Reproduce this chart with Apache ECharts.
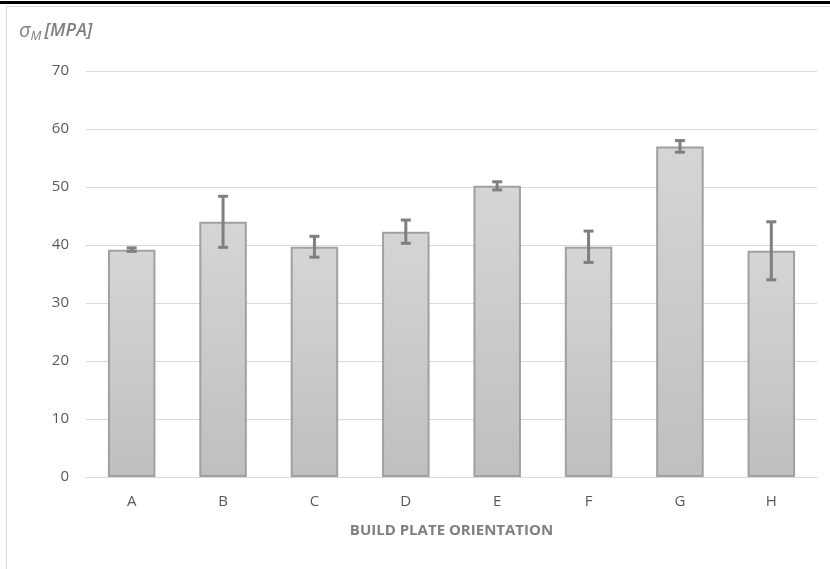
<!DOCTYPE html>
<html><head><meta charset="utf-8">
<script src="https://cdn.jsdelivr.net/npm/echarts@6/dist/echarts.min.js"></script>
<style>html,body{margin:0;padding:0;background:#fff}#c{width:830px;height:569px}</style>
</head><body><div id="c"></div>
<script>
const categories = ['A','B','C','D','E','F','G','H'];
const values = [39.2, 44.0, 39.7, 42.3, 50.2, 39.7, 57.0, 39.0];
const errors = [0.3, 4.4, 1.8, 2.0, 0.7, 2.7, 1.0, 5.0];
const yTicks = [0, 10, 20, 30, 40, 50, 60, 70];

const chart = echarts.init(document.getElementById('c'));
const errData = categories.map((c, i) => [i, values[i] - errors[i], values[i] + errors[i]]);
chart.setOption({
  animation: false,
  grid: {left: 86, right: 13, top: 71, bottom: 92},
  graphic: [
    {type: 'rect', shape: {x: 0, y: 1, width: 830, height: 3}, style: {fill: '#000'}},
    {type: 'rect', shape: {x: 6.5, y: 6.5, width: 840, height: 600}, style: {fill: 'none', stroke: '#d9d9d9', lineWidth: 1}},
    {type: 'text', left: 19, top: 21, style: {
      rich: {
        s: {fontFamily: '"Open Sans", sans-serif', fontStyle: 'italic', fontSize: 20, fill: '#7f7f7f'},
        sub: {fontFamily: '"Open Sans", sans-serif', fontStyle: 'italic', fontSize: 13, fill: '#7f7f7f', padding: [10, 3, 0, 0]},
        t: {fontFamily: '"Open Sans", sans-serif', fontStyle: 'italic', fontWeight: 600, fontSize: 18, fill: '#7f7f7f'}
      },
      text: '{s|σ}{sub|M}{t|[MPA]}'
    }}
  ],
  xAxis: {
    type: 'category', data: categories,
    axisLine: {lineStyle: {color: '#d9d9d9', width: 1}},
    axisTick: {show: false},
    axisLabel: {color: '#595959', fontSize: 15, margin: 17, fontFamily: '"Open Sans", sans-serif'},
    name: 'BUILD PLATE ORIENTATION', nameLocation: 'middle', nameGap: 46,
    nameTextStyle: {color: '#7f7f7f', fontSize: 15, fontWeight: 'bold', fontFamily: '"Open Sans", sans-serif'}
  },
  yAxis: {
    type: 'value', min: yTicks[0], max: yTicks[yTicks.length - 1], interval: 10,
    axisLine: {show: false}, axisTick: {show: false},
    splitLine: {lineStyle: {color: '#d9d9d9', width: 1}},
    axisLabel: {color: '#595959', fontSize: 15, margin: 17, fontFamily: '"Open Sans", sans-serif'}
  },
  series: [
    {
      type: 'bar', data: values, barWidth: '52%',
      itemStyle: {
        color: new echarts.graphic.LinearGradient(0, 0, 0, 1, [
          {offset: 0, color: '#d5d5d5'}, {offset: 1, color: '#bfbfbf'}
        ]),
        borderColor: '#a0a0a0', borderWidth: 2
      }
    },
    {
      type: 'custom', data: errData, z: 10,
      renderItem: function (params, api) {
        const x = api.value(0);
        const lo = api.coord([x, api.value(1)]);
        const hi = api.coord([x, api.value(2)]);
        const hw = 5;
        const st = {stroke: '#7f7f7f', lineWidth: 3, fill: 'none'};
        return {type: 'group', children: [
          {type: 'line', shape: {x1: lo[0], y1: lo[1], x2: hi[0], y2: hi[1]}, style: st},
          {type: 'line', shape: {x1: lo[0] - hw, y1: lo[1], x2: lo[0] + hw, y2: lo[1]}, style: st},
          {type: 'line', shape: {x1: hi[0] - hw, y1: hi[1], x2: hi[0] + hw, y2: hi[1]}, style: st}
        ]};
      }
    }
  ]
});
</script></body></html>
